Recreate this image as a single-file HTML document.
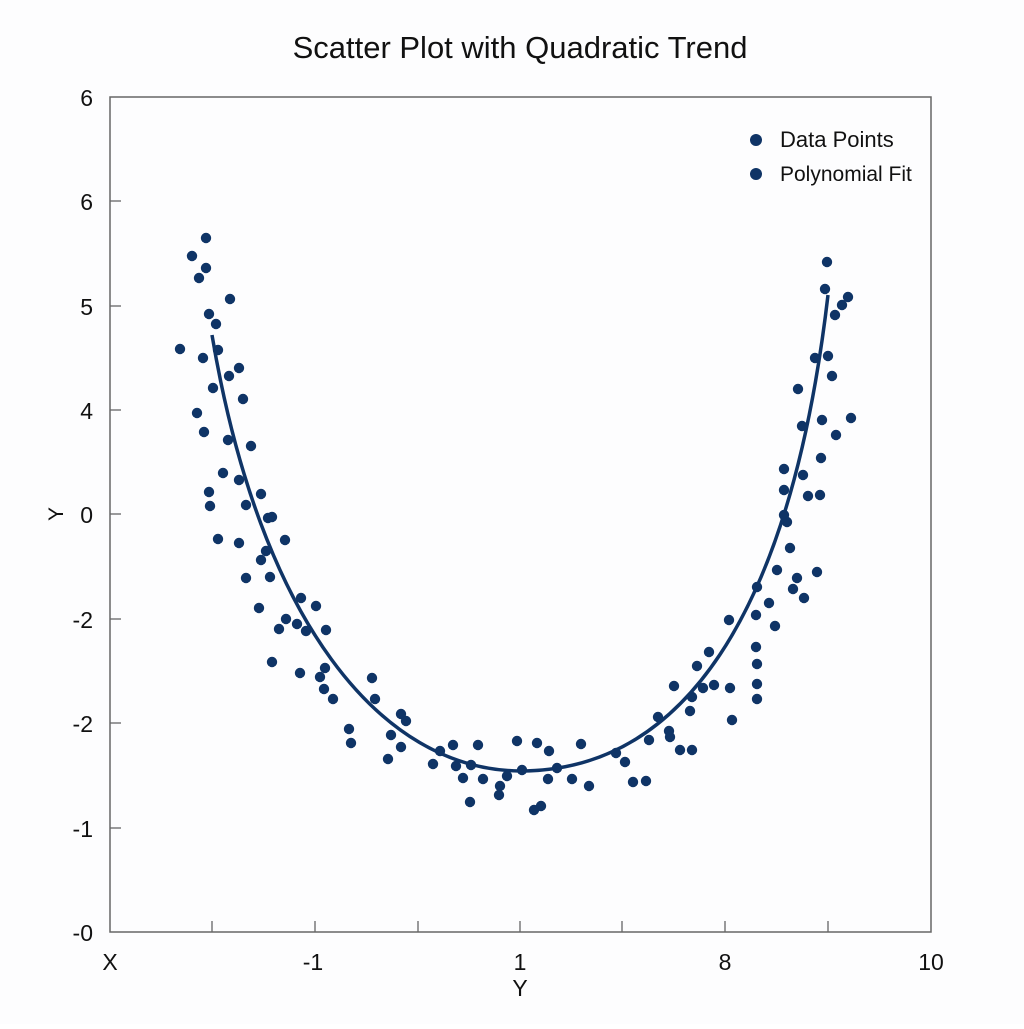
<!DOCTYPE html>
<html><head><meta charset="utf-8"><style>
html,body{margin:0;padding:0;background:#fff;}
svg text{font-family:"Liberation Sans",sans-serif;fill:#111;}
</style></head><body>
<svg width="1024" height="1024" viewBox="0 0 1024 1024" xmlns="http://www.w3.org/2000/svg">
<rect width="1024" height="1024" fill="#fdfdfe"/>
<text x="520" y="58" font-size="31" text-anchor="middle">Scatter Plot with Quadratic Trend</text>
<rect x="110" y="97" width="821" height="835" fill="none" stroke="#666" stroke-width="1.5"/>
<g stroke="#666" stroke-width="1.3">
<line x1="212" y1="932" x2="212" y2="921"/><line x1="315" y1="932" x2="315" y2="921"/>
<line x1="418" y1="932" x2="418" y2="921"/><line x1="520" y1="932" x2="520" y2="921"/>
<line x1="622" y1="932" x2="622" y2="921"/><line x1="725" y1="932" x2="725" y2="921"/>
<line x1="828" y1="932" x2="828" y2="921"/>
<line x1="110" y1="201" x2="121" y2="201"/><line x1="110" y1="306" x2="121" y2="306"/>
<line x1="110" y1="410" x2="121" y2="410"/><line x1="110" y1="514" x2="121" y2="514"/>
<line x1="110" y1="619" x2="121" y2="619"/><line x1="110" y1="723" x2="121" y2="723"/>
<line x1="110" y1="828" x2="121" y2="828"/>
</g>
<g font-size="23" text-anchor="end">
<text x="93" y="106">6</text><text x="93" y="210">6</text><text x="93" y="315">5</text>
<text x="93" y="419">4</text><text x="93" y="523">0</text><text x="93" y="628">-2</text>
<text x="93" y="732">-2</text><text x="93" y="837">-1</text><text x="93" y="941">-0</text>
</g>
<g font-size="23" text-anchor="middle">
<text x="110" y="970">X</text><text x="313" y="970">-1</text><text x="520" y="970">1</text>
<text x="725" y="970">8</text><text x="931" y="970">10</text>
<text x="520" y="996">Y</text>
</g>
<text x="63" y="514" font-size="21" text-anchor="middle" transform="rotate(-90 63 514)">Y</text>
<path d="M212,335 C260,620 380,770 520,771 C680,771 790,620 828,295" fill="none" stroke="#0f3466" stroke-width="3.5"/>
<g fill="#0f3466" id="pts"></g>
<circle cx="756" cy="140" r="6" fill="#0f3466"/>
<circle cx="756" cy="174" r="6" fill="#0f3466"/>
<text x="780" y="147" font-size="22">Data Points</text>
<text x="780" y="181" font-size="21">Polynomial Fit</text>
</svg>
<script>
var p=[[180,349],[192,256],[206,238],[199,278],[206,268],[209,314],[216,324],[203,358],[218,350],[230,299],[213,388],[197,413],[204,432],[229,376],[239,368],[243,399],[228,440],[251,446],[223,473],[209,492],[239,480],[210,506],[261,494],[246,505],[218,539],[239,543],[268,518],[272,517],[285,540],[266,551],[261,560],[246,578],[270,577],[259,608],[301,598],[316,606],[279,629],[286,619],[297,624],[306,631],[326,630],[272,662],[300,673],[320,677],[325,668],[324,689],[333,699],[372,678],[375,699],[349,729],[351,743],[401,714],[406,721],[391,735],[401,747],[388,759],[433,764],[440,751],[453,745],[456,766],[471,765],[463,778],[478,745],[483,779],[470,802],[499,795],[500,786],[507,776],[517,741],[522,770],[537,743],[549,751],[557,768],[548,779],[541,806],[534,810],[572,779],[581,744],[589,786],[616,753],[625,762],[633,782],[646,781],[649,740],[658,717],[669,731],[670,737],[680,750],[690,711],[692,750],[674,686],[692,697],[697,666],[709,652],[703,688],[714,685],[730,688],[732,720],[729,620],[757,699],[757,684],[757,664],[756,647],[756,615],[757,587],[769,603],[775,626],[777,570],[784,515],[787,522],[790,548],[784,490],[784,469],[793,589],[797,578],[804,598],[803,475],[808,496],[798,389],[802,426],[815,358],[817,572],[820,495],[821,458],[822,420],[828,356],[832,376],[825,289],[827,262],[835,315],[842,305],[848,297],[836,435],[851,418]];
var g=document.getElementById('pts'),s='';
p.forEach(function(q){s+='<circle cx="'+q[0]+'" cy="'+q[1]+'" r="5.2"/>';});
g.innerHTML=s;
</script>
</body></html>
